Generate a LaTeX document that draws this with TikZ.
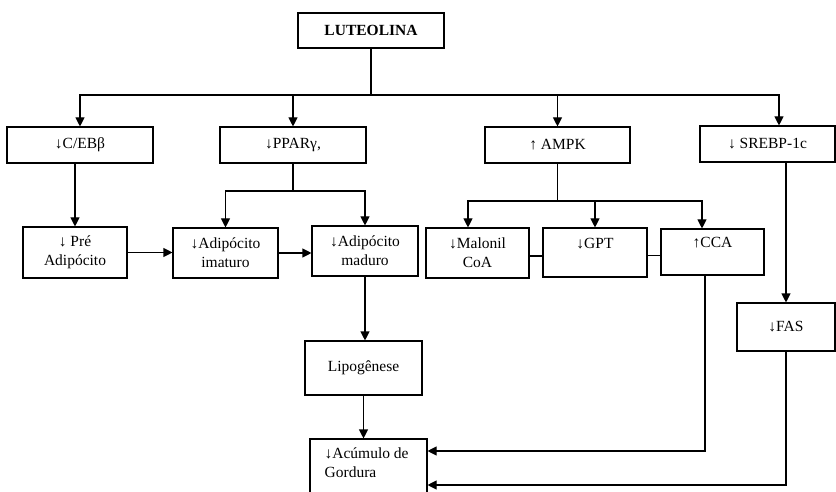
\documentclass[tikz,border=0pt]{standalone}
\usepackage{fontspec}
\setmainfont{Liberation Serif}
\usetikzlibrary{positioning,arrows.meta}

\begin{document}
\begin{tikzpicture}[x=1pt,y=-1pt,
  box/.style={draw, line width=1.1pt, inner sep=2pt, align=center, font=\fontsize{15.5}{19}\selectfont},
  txt/.style={inner sep=2pt, align=left, font=\fontsize{15.5}{19}\selectfont},
  ln/.style={line width=1.1pt},
  arr/.style={line width=1.1pt, -{Triangle[length=9pt,width=9pt]}}]
\useasboundingbox (0,0) rectangle (836,492);
\clip (0,0) rectangle (836,492);

% top
\node[box, minimum width=146pt, minimum height=35pt, font=\fontsize{15.5}{19}\selectfont\bfseries] (lut) at (371,30.5) {LUTEOLINA};

% first row
\node[box, minimum width=146pt, minimum height=36pt] (cebp) at (80,145) {↓C/EBβ};
\node[box, minimum width=146pt, minimum height=36pt] (ppar) at (293,145) {↓PPARγ,};
\node[box, minimum width=145pt, minimum height=36pt] (ampk) at (557.5,145) {↑ AMPK};
\node[box, minimum width=135pt, minimum height=36pt] (srebp) at (767.5,144) {↓ SREBP-1c};

% second row
\node[box, minimum width=104pt, minimum height=51pt] (pre) at (75,252.5) {↓ Pré\\Adipócito};
\node[box, minimum width=105pt, minimum height=50pt] (ima) at (225.5,253) {↓Adipócito\\imaturo};
\node[box, minimum width=106pt, minimum height=50pt] (mad) at (365,251) {↓Adipócito\\maduro};
\node[box, minimum width=103pt, minimum height=50pt] (mal) at (477.5,253) {↓Malonil\\CoA};
\node[box, minimum width=104pt, minimum height=49pt] (gpt) at (595,252.5) {↓GPT\\~};
\node[box, minimum width=103pt, minimum height=46pt] (cca) at (712.5,252) {↑CCA\\~};

% lower part
\node[box, minimum width=98pt, minimum height=48pt] (fas) at (786,327) {↓FAS};
\node[box, minimum width=117pt, minimum height=54pt] (lip) at (363.5,368) {Lipogênese};
\node[box, minimum width=117pt, minimum height=71pt] (acu) at (368.5,474.5) {};
\node[txt, anchor=north west] (acutxt) at ([xshift=13pt,yshift=-7pt]acu.north west) {↓Acúmulo de\\Gordura};

% luteolina bus
\coordinate (bus) at (371,95);
\draw[ln] (lut) -- (bus);
\draw[arr] (bus) -| (cebp);
\draw[arr] (bus) -| (ppar);
\draw[arr] (bus) -| (ampk);
\draw[arr] (bus) -| ([xshift=11.5pt]srebp.north);

% C/EBP and PPAR branch
\draw[arr] (cebp.south -| pre) -- (pre);
\coordinate (pj) at (293,191);
\draw[ln] (ppar) -- (pj);
\draw[arr] (pj) -| (ima);
\draw[arr] (pj) -| (mad);
\draw[arr] (pre.east) -- (pre.east -| ima.west);
\draw[arr] (ima.east) -- (ima.east -| mad.west);
\draw[arr] (mad.south) -- (mad.south |- lip.north);
\draw[arr] (lip.south) -- (lip.south |- acu.north);

% AMPK branch
\coordinate (aj) at (557.5,201);
\draw[ln] (ampk) -- (aj);
\draw[arr] (aj) -| ([xshift=-9.5pt]mal.north);
\draw[arr] (aj) -| (gpt);
\draw[arr] (aj) -| ([xshift=-10.5pt]cca.north);
\draw[ln] ([yshift=-3pt]mal.east) -- ([yshift=-3pt]mal.east -| gpt.west);
\draw[ln] ([yshift=-3pt]gpt.east) -- ([yshift=-3pt]gpt.east -| cca.west);
\draw[arr] ([xshift=-7.5pt]cca.south) |- ([yshift=23.5pt]acu.east);

% SREBP branch
\draw[arr] (srebp.south -| fas) -- (fas);
\draw[arr] (fas.south) |- ([yshift=-10.5pt]acu.east);
\end{tikzpicture}
\end{document}
